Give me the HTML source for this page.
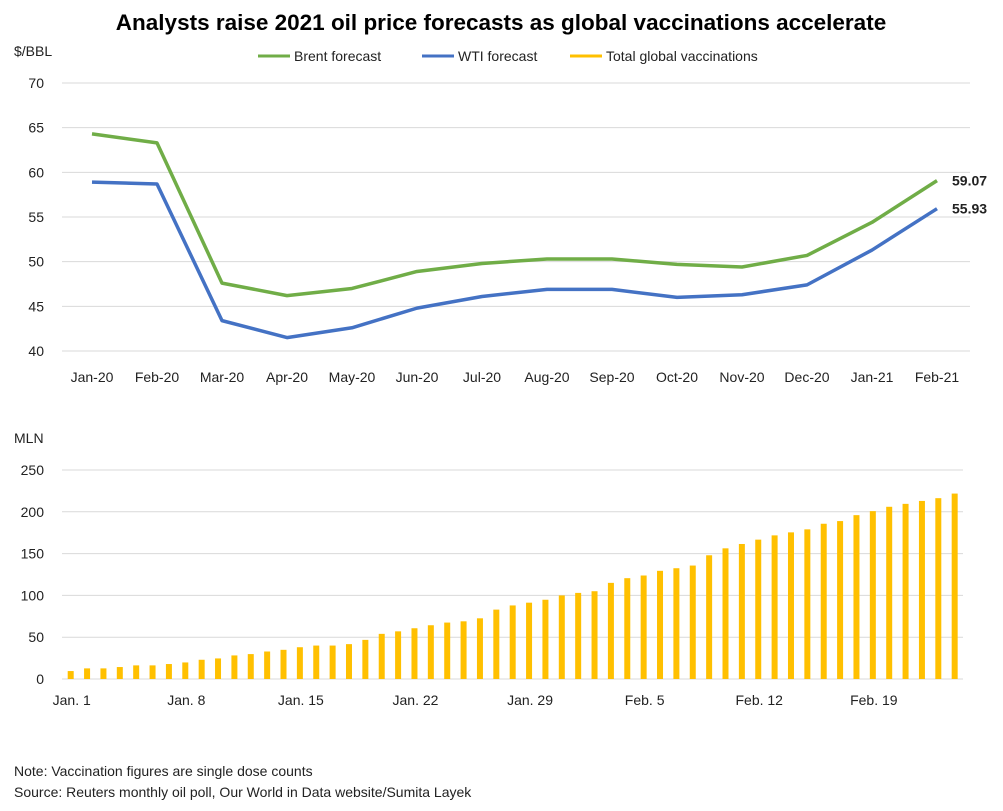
<!DOCTYPE html>
<html><head><meta charset="utf-8"><style>
body{margin:0;background:#fff;font-family:"Liberation Sans",sans-serif;}
svg text{font-family:"Liberation Sans",sans-serif;}
</style></head><body>
<svg id="c" width="1003" height="806" viewBox="0 0 1003 806">
<text x="501" y="30" text-anchor="middle" font-size="22.5" font-weight="bold" fill="#000">Analysts raise 2021 oil price forecasts as global vaccinations accelerate</text>
<text x="14" y="56" font-size="14" fill="#222">$/BBL</text>
<g>
<g><line x1="258" y1="56" x2="290" y2="56" stroke="#70ad47" stroke-width="3"/><text x="294" y="61" font-size="14" fill="#222">Brent forecast</text></g>
<g><line x1="422" y1="56" x2="454" y2="56" stroke="#4472c4" stroke-width="3"/><text x="458" y="61" font-size="14" fill="#222">WTI forecast</text></g>
<g><line x1="570" y1="56" x2="602" y2="56" stroke="#ffc000" stroke-width="3"/><text x="606" y="61" font-size="14" fill="#222">Total global vaccinations</text></g>
</g>
<g id="topg"></g>
<text x="14" y="443" font-size="14" fill="#222">MLN</text>
<g id="botg"></g>
<text x="14" y="776" font-size="14" fill="#222">Note: Vaccination figures are single dose counts</text>
<text x="14" y="797" font-size="14" fill="#222">Source: Reuters monthly oil poll, Our World in Data website/Sumita Layek</text>
</svg>
<script>
const months = ["Jan-20","Feb-20","Mar-20","Apr-20","May-20","Jun-20","Jul-20","Aug-20","Sep-20","Oct-20","Nov-20","Dec-20","Jan-21","Feb-21"];
const brent = [64.3,63.3,47.6,46.2,47.0,48.9,49.8,50.3,50.3,49.7,49.4,50.7,54.4,59.07];
const wti = [58.9,58.7,43.4,41.5,42.6,44.8,46.1,46.9,46.9,46.0,46.3,47.4,51.3,55.93];
const topTicks = [40,45,50,55,60,65,70];
const vacc = [9.5,12.7,12.7,14.3,16.3,16.3,17.9,19.8,23,24.6,28.2,29.8,32.9,34.9,38,40,40,41.7,46.8,54,57,60.7,64.3,67.5,69,72.6,83,88,91.3,94.8,100,103,105,115,120.6,123.8,129.4,132.5,135.7,148,156.3,161.5,166.7,171.8,175.4,179,185.7,188.9,196,200.8,206,209.5,213,216.3,221.8];
const dayLabels = ["Jan. 1","Jan. 8","Jan. 15","Jan. 22","Jan. 29","Feb. 5","Feb. 12","Feb. 19"];
const botTicks = [0,50,100,150,200,250];
{
const NS="http://www.w3.org/2000/svg";
function mk(p,t,a){const e=document.createElementNS(NS,t);for(const k in a)e.setAttribute(k,a[k]);p.appendChild(e);return e;}
const topG=document.getElementById('topg'), botG=document.getElementById('botg');
const ty=v=>351-(v-40)*(268/30), tx=i=>92+i*65;
topTicks.forEach(v=>{
 const g=mk(topG,'line',{x1:62,x2:970,y1:ty(v),y2:ty(v),stroke:'#d9d9d9','stroke-width':1});
 
 
 const t=mk(topG,'text',{x:44,y:ty(v)+5,'text-anchor':'end','font-size':14,fill:'#222'});t.textContent=v;
 
 
});
months.forEach((m,i)=>{
 const t=mk(topG,'text',{x:tx(i),y:382,'text-anchor':'middle','font-size':14,fill:'#222'});t.textContent=m;
 
 
});
function line(arr,col,name){
 const p=mk(topG,'polyline',{points:arr.map((v,i)=>tx(i)+','+ty(v)).join(' '),fill:'none',stroke:col,'stroke-width':3.5,'stroke-linejoin':'round'});
 
 
 const L=arr.length-1;
 const t=mk(topG,'text',{x:tx(L)+15,y:ty(arr[L])+5,'font-size':14,'font-weight':'bold',fill:'#222'});t.textContent=arr[L].toFixed(2);
 
 
}
line(brent,'#70ad47','brent-line');
line(wti,'#4472c4','wti-line');
const by=v=>679-v*(209/250), bx=i=>70.7+i*16.37;
botTicks.forEach(v=>{
 const g=mk(botG,'line',{x1:62,x2:963,y1:by(v),y2:by(v),stroke:'#d9d9d9','stroke-width':1});
 
 
 const t=mk(botG,'text',{x:44,y:by(v)+5,'text-anchor':'end','font-size':14,fill:'#222'});t.textContent=v;
 
 
});
vacc.forEach((v,i)=>{
 const r=mk(botG,'rect',{x:bx(i)-3,y:by(v),width:6,height:by(0)-by(v),fill:'#ffc000'});
 
 
});
dayLabels.forEach((d,k)=>{
 const t=mk(botG,'text',{x:bx(k*7)+1,y:705,'text-anchor':'middle','font-size':14,fill:'#222'});t.textContent=d;
 
 
});
}
</script>
</body></html>
